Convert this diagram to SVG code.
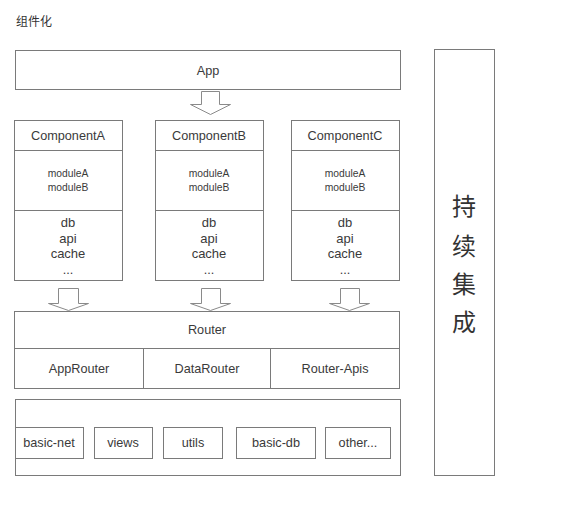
<svg xmlns="http://www.w3.org/2000/svg" width="565" height="506" viewBox="0 0 565 506">
<style>
.b{fill:#fff;stroke:#7a7a7a;stroke-width:1}
.ar{fill:#fff;stroke:#8a8a8a;stroke-width:1}
.t{font-family:"Liberation Sans",Arial,sans-serif;fill:#3a3a3a;text-anchor:middle}
.s12{font-size:12.7px}
.s13{font-size:13px}
.s9{font-size:10.3px}
.cj{font-family:"Noto Sans CJK SC",sans-serif;fill:#333}
</style>
<rect width="565" height="506" fill="#fff"/>
<text class="cj" x="16" y="26" font-size="12">组件化</text>
<g id="app"><rect class="b" x="15.5" y="50.5" width="385" height="39"/><text class="t s12" x="208" y="74.5">App</text></g>
<g id="componentA">
<rect class="b" x="14.5" y="120.5" width="108" height="160"/>
<line class="b" x1="14.5" y1="150.5" x2="122.5" y2="150.5"/>
<line class="b" x1="14.5" y1="210.5" x2="122.5" y2="210.5"/>
<text class="t s12" x="68" y="140">ComponentA</text>
<text class="t s9" x="68" y="177">moduleA</text><text class="t s9" x="68" y="191">moduleB</text>
<text class="t s13" x="68" y="226.5">db</text><text class="t s13" x="68" y="242.5">api</text><text class="t s13" x="68" y="257.5">cache</text><text class="t s12" x="68" y="273.5">...</text>
</g>
<g id="componentB">
<rect class="b" x="155.5" y="120.5" width="108" height="160"/>
<line class="b" x1="155.5" y1="150.5" x2="263.5" y2="150.5"/>
<line class="b" x1="155.5" y1="210.5" x2="263.5" y2="210.5"/>
<text class="t s12" x="209" y="140">ComponentB</text>
<text class="t s9" x="209" y="177">moduleA</text><text class="t s9" x="209" y="191">moduleB</text>
<text class="t s13" x="209" y="226.5">db</text><text class="t s13" x="209" y="242.5">api</text><text class="t s13" x="209" y="257.5">cache</text><text class="t s12" x="209" y="273.5">...</text>
</g>
<g id="componentC">
<rect class="b" x="291.5" y="120.5" width="108" height="160"/>
<line class="b" x1="291.5" y1="150.5" x2="399.5" y2="150.5"/>
<line class="b" x1="291.5" y1="210.5" x2="399.5" y2="210.5"/>
<text class="t s12" x="345" y="140">ComponentC</text>
<text class="t s9" x="345" y="177">moduleA</text><text class="t s9" x="345" y="191">moduleB</text>
<text class="t s13" x="345" y="226.5">db</text><text class="t s13" x="345" y="242.5">api</text><text class="t s13" x="345" y="257.5">cache</text><text class="t s12" x="345" y="273.5">...</text>
</g>
<g id="router">
<rect class="b" x="14.5" y="311.5" width="385" height="77"/>
<line class="b" x1="14.5" y1="348.5" x2="399.5" y2="348.5"/>
<line class="b" x1="143.5" y1="348.5" x2="143.5" y2="388.5"/>
<line class="b" x1="270.5" y1="348.5" x2="270.5" y2="388.5"/>
<text class="t s12" x="207" y="334">Router</text>
<text class="t s12" x="79" y="373">AppRouter</text>
<text class="t s12" x="207" y="373">DataRouter</text>
<text class="t s12" x="335" y="373">Router-Apis</text>
</g>
<g id="base">
<rect class="b" x="15.5" y="399.5" width="385" height="76"/>
<rect class="b" x="15.5" y="427.5" width="68" height="31"/><text class="t s12" x="49" y="447">basic-net</text>
<rect class="b" x="94.5" y="427.5" width="58" height="31"/><text class="t s12" x="123" y="447">views</text>
<rect class="b" x="163.5" y="427.5" width="59" height="31"/><text class="t s12" x="193" y="447">utils</text>
<rect class="b" x="236.5" y="427.5" width="79" height="31"/><text class="t s12" x="276" y="447">basic-db</text>
<rect class="b" x="325.5" y="427.5" width="65" height="31"/><text class="t s12" x="358" y="447">other...</text>
</g>
<g id="ci">
<rect class="b" x="434.5" y="49.5" width="60" height="426"/>
<text class="cj" x="464" y="215" font-size="24" text-anchor="middle">持</text>
<text class="cj" x="464" y="255" font-size="24" text-anchor="middle">续</text>
<text class="cj" x="464" y="293" font-size="24" text-anchor="middle">集</text>
<text class="cj" x="464" y="331" font-size="24" text-anchor="middle">成</text>
</g>
<g id="connectors">
<path class="ar" d="M201.5,91.5 H219.5 V104.5 H230.5 L210.5,114.5 L190.5,104.5 H201.5 Z"/>
<path class="ar" d="M58.5,288.5 H78.5 V303.5 H88.5 L68.5,310.5 L48.5,303.5 H58.5 Z"/>
<path class="ar" d="M201.5,288.5 H220.5 V303.5 H230.5 L210.5,310.5 L190.5,303.5 H201.5 Z"/>
<path class="ar" d="M340.5,288.5 H359.5 V303.5 H369.5 L349.5,310.5 L329.5,303.5 H340.5 Z"/>
</g>
</svg>
